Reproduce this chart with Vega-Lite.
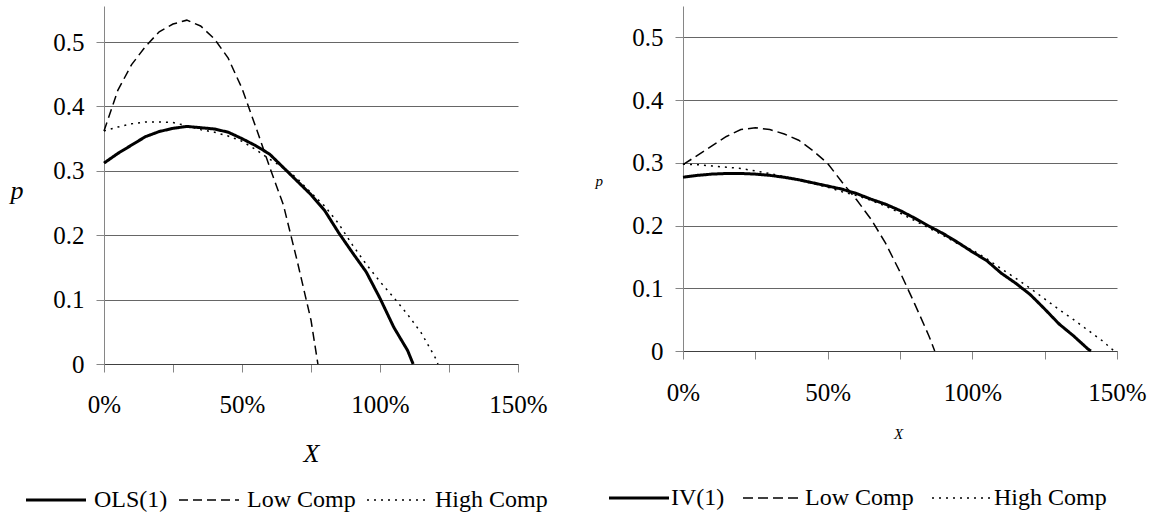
{
  "$schema": "https://vega.github.io/schema/vega-lite/v6.json",
  "autosize": {"type": "pad"},
  "padding": {"left": 10, "top": 6, "right": 10, "bottom": 6},
  "background": "white",
  "spacing": 165,
  "bounds": "flush",
  "resolve": {"scale": {"strokeDash": "independent", "y": "independent", "x": "independent"}, "legend": {"strokeDash": "independent"}},
  "config": {
    "font": "Liberation Serif, Times New Roman, DejaVu Serif, serif",
    "view": {"stroke": null},
    "axis": {
      "labelFont": "Liberation Serif, Times New Roman, DejaVu Serif, serif",
      "titleFont": "Liberation Serif, Times New Roman, DejaVu Serif, serif",
      "labelColor": "black",
      "titleColor": "black",
      "labelFontSize": 25,
      "tickColor": "#868686",
      "tickSize": 8,
      "domainColor": "#868686",
      "gridColor": "#666666",
      "labelFlush": false,
      "labelOverlap": false,
      "titleFontWeight": "normal",
      "titleFontStyle": "italic"
    },
    "legend": {
      "labelFont": "Liberation Serif, Times New Roman, DejaVu Serif, serif",
      "labelColor": "black",
      "labelFontSize": 24
    }
  },
  "hconcat": [
    {
      "width": 414,
      "height": 358,
      "data": {
        "values": [
          {"x": 0, "p": 0.312, "s": "OLS(1)"},
          {"x": 0.05, "p": 0.327, "s": "OLS(1)"},
          {"x": 0.1, "p": 0.34, "s": "OLS(1)"},
          {"x": 0.15, "p": 0.353, "s": "OLS(1)"},
          {"x": 0.2, "p": 0.361, "s": "OLS(1)"},
          {"x": 0.25, "p": 0.366, "s": "OLS(1)"},
          {"x": 0.3, "p": 0.369, "s": "OLS(1)"},
          {"x": 0.35, "p": 0.367, "s": "OLS(1)"},
          {"x": 0.4, "p": 0.365, "s": "OLS(1)"},
          {"x": 0.45, "p": 0.36, "s": "OLS(1)"},
          {"x": 0.5, "p": 0.35, "s": "OLS(1)"},
          {"x": 0.55, "p": 0.339, "s": "OLS(1)"},
          {"x": 0.6, "p": 0.326, "s": "OLS(1)"},
          {"x": 0.65, "p": 0.305, "s": "OLS(1)"},
          {"x": 0.7, "p": 0.284, "s": "OLS(1)"},
          {"x": 0.75, "p": 0.263, "s": "OLS(1)"},
          {"x": 0.8, "p": 0.238, "s": "OLS(1)"},
          {"x": 0.85, "p": 0.204, "s": "OLS(1)"},
          {"x": 0.9, "p": 0.173, "s": "OLS(1)"},
          {"x": 0.95, "p": 0.143, "s": "OLS(1)"},
          {"x": 1.0, "p": 0.102, "s": "OLS(1)"},
          {"x": 1.05, "p": 0.057, "s": "OLS(1)"},
          {"x": 1.1, "p": 0.021, "s": "OLS(1)"},
          {"x": 1.12, "p": 0, "s": "OLS(1)"},
          {"x": 0, "p": 0.362, "s": "Low Comp"},
          {"x": 0.05, "p": 0.425, "s": "Low Comp"},
          {"x": 0.1, "p": 0.465, "s": "Low Comp"},
          {"x": 0.15, "p": 0.493, "s": "Low Comp"},
          {"x": 0.2, "p": 0.516, "s": "Low Comp"},
          {"x": 0.25, "p": 0.528, "s": "Low Comp"},
          {"x": 0.3, "p": 0.534, "s": "Low Comp"},
          {"x": 0.35, "p": 0.525, "s": "Low Comp"},
          {"x": 0.4, "p": 0.505, "s": "Low Comp"},
          {"x": 0.45, "p": 0.475, "s": "Low Comp"},
          {"x": 0.5, "p": 0.428, "s": "Low Comp"},
          {"x": 0.55, "p": 0.368, "s": "Low Comp"},
          {"x": 0.6, "p": 0.306, "s": "Low Comp"},
          {"x": 0.65, "p": 0.247, "s": "Low Comp"},
          {"x": 0.7, "p": 0.16, "s": "Low Comp"},
          {"x": 0.75, "p": 0.068, "s": "Low Comp"},
          {"x": 0.775, "p": 0, "s": "Low Comp"},
          {"x": 0, "p": 0.362, "s": "High Comp"},
          {"x": 0.05, "p": 0.368, "s": "High Comp"},
          {"x": 0.1, "p": 0.373, "s": "High Comp"},
          {"x": 0.15, "p": 0.376, "s": "High Comp"},
          {"x": 0.2, "p": 0.376, "s": "High Comp"},
          {"x": 0.25, "p": 0.375, "s": "High Comp"},
          {"x": 0.3, "p": 0.37, "s": "High Comp"},
          {"x": 0.35, "p": 0.364, "s": "High Comp"},
          {"x": 0.4, "p": 0.36, "s": "High Comp"},
          {"x": 0.45, "p": 0.354, "s": "High Comp"},
          {"x": 0.5, "p": 0.346, "s": "High Comp"},
          {"x": 0.55, "p": 0.333, "s": "High Comp"},
          {"x": 0.6, "p": 0.318, "s": "High Comp"},
          {"x": 0.65, "p": 0.305, "s": "High Comp"},
          {"x": 0.7, "p": 0.288, "s": "High Comp"},
          {"x": 0.75, "p": 0.266, "s": "High Comp"},
          {"x": 0.8, "p": 0.245, "s": "High Comp"},
          {"x": 0.85, "p": 0.218, "s": "High Comp"},
          {"x": 0.9, "p": 0.185, "s": "High Comp"},
          {"x": 0.95, "p": 0.155, "s": "High Comp"},
          {"x": 1.0, "p": 0.128, "s": "High Comp"},
          {"x": 1.05, "p": 0.103, "s": "High Comp"},
          {"x": 1.1, "p": 0.077, "s": "High Comp"},
          {"x": 1.15, "p": 0.048, "s": "High Comp"},
          {"x": 1.2, "p": 0.01, "s": "High Comp"},
          {"x": 1.21, "p": 0, "s": "High Comp"}
        ]
      },
      "mark": {"type": "line", "color": "black"},
      "encoding": {
        "x": {
          "field": "x",
          "type": "quantitative",
          "scale": {"domain": [0, 1.5], "nice": false},
          "axis": {
            "values": [0, 0.25, 0.5, 0.75, 1, 1.25, 1.5],
            "format": ".0%",
            "labelExpr": "round(datum.value * 100) % 50 === 0 ? datum.label : ''",
            "grid": false,
            "domainColor": "#404040",
            "labelBaseline": "middle",
            "labelPadding": 32,
            "title": "X",
            "titleFontSize": 26,
            "titleBaseline": "middle",
            "titleX": 207,
            "titleY": 89
          }
        },
        "y": {
          "field": "p",
          "type": "quantitative",
          "scale": {"domain": [0, 0.556], "nice": false},
          "axis": {
            "values": [0, 0.1, 0.2, 0.3, 0.4, 0.5],
            "labelExpr": "datum.value === 0 ? '0' : format(datum.value, '.1f')",
            "labelPadding": 12,
            "title": "p",
            "titleFontSize": 26,
            "titleAngle": 0,
            "titleAlign": "left",
            "titleBaseline": "middle",
            "titleX": -94,
            "titleY": 184
          }
        },
        "strokeDash": {
          "field": "s",
          "type": "nominal",
          "scale": {"domain": ["OLS(1)", "Low Comp", "High Comp"], "range": [[1, 0], [9, 5], [2, 5]]},
          "legend": {
            "title": null,
            "orient": "none",
            "legendX": -60,
            "legendY": 482,
            "direction": "horizontal",
            "padding": 0,
            "symbolType": "stroke",
            "symbolSize": 3600,
            "symbolStrokeColor": "black",
            "labelOffset": 26,
            "columnPadding": 8,
            "encode": {
              "symbols": {
                "update": {
                  "strokeWidth": {"signal": "datum.value === 'OLS(1)' ? 3 : 1.5"}
                }
              }
            }
          }
        },
        "strokeWidth": {
          "condition": {"test": "datum.s === 'OLS(1)'", "value": 3},
          "value": 1.5
        }
      }
    },
    {
      "width": 434,
      "height": 345,
      "data": {
        "values": [
          {"x": 0, "p": 0.277, "s": "IV(1)"},
          {"x": 0.05, "p": 0.28, "s": "IV(1)"},
          {"x": 0.1, "p": 0.282, "s": "IV(1)"},
          {"x": 0.15, "p": 0.283, "s": "IV(1)"},
          {"x": 0.2, "p": 0.283, "s": "IV(1)"},
          {"x": 0.25, "p": 0.282, "s": "IV(1)"},
          {"x": 0.3, "p": 0.28, "s": "IV(1)"},
          {"x": 0.35, "p": 0.277, "s": "IV(1)"},
          {"x": 0.4, "p": 0.273, "s": "IV(1)"},
          {"x": 0.45, "p": 0.268, "s": "IV(1)"},
          {"x": 0.5, "p": 0.263, "s": "IV(1)"},
          {"x": 0.55, "p": 0.258, "s": "IV(1)"},
          {"x": 0.6, "p": 0.251, "s": "IV(1)"},
          {"x": 0.65, "p": 0.242, "s": "IV(1)"},
          {"x": 0.7, "p": 0.234, "s": "IV(1)"},
          {"x": 0.75, "p": 0.224, "s": "IV(1)"},
          {"x": 0.8, "p": 0.212, "s": "IV(1)"},
          {"x": 0.85, "p": 0.199, "s": "IV(1)"},
          {"x": 0.9, "p": 0.187, "s": "IV(1)"},
          {"x": 0.95, "p": 0.173, "s": "IV(1)"},
          {"x": 1.0, "p": 0.158, "s": "IV(1)"},
          {"x": 1.05, "p": 0.144, "s": "IV(1)"},
          {"x": 1.1, "p": 0.124, "s": "IV(1)"},
          {"x": 1.15, "p": 0.108, "s": "IV(1)"},
          {"x": 1.2, "p": 0.09, "s": "IV(1)"},
          {"x": 1.25, "p": 0.067, "s": "IV(1)"},
          {"x": 1.3, "p": 0.043, "s": "IV(1)"},
          {"x": 1.35, "p": 0.024, "s": "IV(1)"},
          {"x": 1.4, "p": 0.003, "s": "IV(1)"},
          {"x": 1.41, "p": 0, "s": "IV(1)"},
          {"x": 0, "p": 0.297, "s": "Low Comp"},
          {"x": 0.05, "p": 0.312, "s": "Low Comp"},
          {"x": 0.1, "p": 0.327, "s": "Low Comp"},
          {"x": 0.15, "p": 0.342, "s": "Low Comp"},
          {"x": 0.2, "p": 0.353, "s": "Low Comp"},
          {"x": 0.25, "p": 0.356, "s": "Low Comp"},
          {"x": 0.3, "p": 0.353, "s": "Low Comp"},
          {"x": 0.35, "p": 0.346, "s": "Low Comp"},
          {"x": 0.4, "p": 0.336, "s": "Low Comp"},
          {"x": 0.45, "p": 0.319, "s": "Low Comp"},
          {"x": 0.5, "p": 0.299, "s": "Low Comp"},
          {"x": 0.55, "p": 0.269, "s": "Low Comp"},
          {"x": 0.6, "p": 0.241, "s": "Low Comp"},
          {"x": 0.65, "p": 0.21, "s": "Low Comp"},
          {"x": 0.7, "p": 0.172, "s": "Low Comp"},
          {"x": 0.75, "p": 0.126, "s": "Low Comp"},
          {"x": 0.8, "p": 0.076, "s": "Low Comp"},
          {"x": 0.85, "p": 0.024, "s": "Low Comp"},
          {"x": 0.87, "p": 0, "s": "Low Comp"},
          {"x": 0, "p": 0.298, "s": "High Comp"},
          {"x": 0.05, "p": 0.297, "s": "High Comp"},
          {"x": 0.1, "p": 0.295, "s": "High Comp"},
          {"x": 0.15, "p": 0.293, "s": "High Comp"},
          {"x": 0.2, "p": 0.291, "s": "High Comp"},
          {"x": 0.25, "p": 0.287, "s": "High Comp"},
          {"x": 0.3, "p": 0.283, "s": "High Comp"},
          {"x": 0.35, "p": 0.278, "s": "High Comp"},
          {"x": 0.4, "p": 0.272, "s": "High Comp"},
          {"x": 0.45, "p": 0.267, "s": "High Comp"},
          {"x": 0.5, "p": 0.261, "s": "High Comp"},
          {"x": 0.55, "p": 0.254, "s": "High Comp"},
          {"x": 0.6, "p": 0.248, "s": "High Comp"},
          {"x": 0.65, "p": 0.24, "s": "High Comp"},
          {"x": 0.7, "p": 0.231, "s": "High Comp"},
          {"x": 0.75, "p": 0.22, "s": "High Comp"},
          {"x": 0.8, "p": 0.208, "s": "High Comp"},
          {"x": 0.85, "p": 0.196, "s": "High Comp"},
          {"x": 0.9, "p": 0.184, "s": "High Comp"},
          {"x": 0.95, "p": 0.171, "s": "High Comp"},
          {"x": 1.0, "p": 0.161, "s": "High Comp"},
          {"x": 1.05, "p": 0.147, "s": "High Comp"},
          {"x": 1.1, "p": 0.131, "s": "High Comp"},
          {"x": 1.15, "p": 0.116, "s": "High Comp"},
          {"x": 1.2, "p": 0.1, "s": "High Comp"},
          {"x": 1.25, "p": 0.083, "s": "High Comp"},
          {"x": 1.3, "p": 0.066, "s": "High Comp"},
          {"x": 1.35, "p": 0.05, "s": "High Comp"},
          {"x": 1.4, "p": 0.033, "s": "High Comp"},
          {"x": 1.45, "p": 0.016, "s": "High Comp"},
          {"x": 1.49, "p": 0, "s": "High Comp"}
        ]
      },
      "mark": {"type": "line", "color": "black"},
      "encoding": {
        "x": {
          "field": "x",
          "type": "quantitative",
          "scale": {"domain": [0, 1.5], "nice": false},
          "axis": {
            "values": [0, 0.25, 0.5, 0.75, 1, 1.25, 1.5],
            "format": ".0%",
            "labelExpr": "round(datum.value * 100) % 50 === 0 ? datum.label : ''",
            "grid": false,
            "domainColor": "#404040",
            "labelBaseline": "middle",
            "labelPadding": 33,
            "title": "X",
            "titleFontSize": 15,
            "titleBaseline": "middle",
            "titleX": 215,
            "titleY": 82
          }
        },
        "y": {
          "field": "p",
          "type": "quantitative",
          "scale": {"domain": [0, 0.55], "nice": false},
          "axis": {
            "values": [0, 0.1, 0.2, 0.3, 0.4, 0.5],
            "labelExpr": "datum.value === 0 ? '0' : format(datum.value, '.1f')",
            "labelPadding": 12,
            "title": "p",
            "titleFontSize": 15,
            "titleAngle": 0,
            "titleAlign": "left",
            "titleBaseline": "middle",
            "titleX": -88,
            "titleY": 174
          }
        },
        "strokeDash": {
          "field": "s",
          "type": "nominal",
          "scale": {"domain": ["IV(1)", "Low Comp", "High Comp"], "range": [[1, 0], [10, 5], [2, 5]]},
          "legend": {
            "title": null,
            "orient": "none",
            "legendX": -56,
            "legendY": 480,
            "direction": "horizontal",
            "padding": 0,
            "symbolType": "stroke",
            "symbolSize": 3600,
            "symbolStrokeColor": "black",
            "labelOffset": 20,
            "columnPadding": 15,
            "encode": {
              "symbols": {
                "update": {
                  "strokeWidth": {"signal": "datum.value === 'IV(1)' ? 3 : 1.5"}
                }
              }
            }
          }
        },
        "strokeWidth": {
          "condition": {"test": "datum.s === 'IV(1)'", "value": 3},
          "value": 1.5
        }
      }
    }
  ]
}
